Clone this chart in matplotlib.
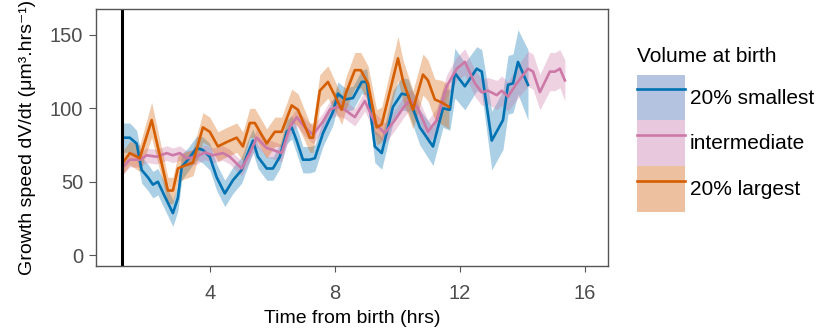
import matplotlib
matplotlib.use('Agg')
import matplotlib.pyplot as plt
from matplotlib.patches import Patch
from matplotlib.lines import Line2D
import numpy as np

plt.rcParams['font.family'] = ['Liberation Sans', 'DejaVu Sans']

# --- data (time in hrs, growth speed in um^3/hr) ---
small_t = [1.22, 1.44, 1.66, 1.82, 2.02, 2.18, 2.34, 2.56, 2.82, 2.98,
           3.10, 3.30, 3.58, 3.78, 4.00, 4.22, 4.48, 4.74, 5.02, 5.22,
           5.38, 5.54, 5.82, 6.02, 6.24, 6.46, 6.62, 6.78, 6.98, 7.20,
           7.36, 7.62, 7.94, 8.10, 8.32, 8.58, 8.86, 9.02, 9.28, 9.50,
           9.86, 10.14, 10.34, 10.72, 11.14, 11.46, 11.68, 11.84, 12.16, 12.54,
           12.70, 13.02, 13.38, 13.54, 13.70, 13.86, 14.18]
small_v = [80, 80, 76, 58, 53, 48, 50, 40, 28.6, 39,
           60, 65, 73, 71.6, 67, 53, 42, 51, 58, 69.5,
           78, 67, 59, 59, 67, 84, 87, 78, 65, 65,
           66, 83, 97.5, 110, 106, 107, 118, 118, 74, 69.5,
           101, 110, 109, 87, 74, 100, 99, 124, 115, 127,
           125, 78, 92, 116, 117, 131.6, 116]
small_err = [10, 10, 9, 9, 9, 9, 9, 9, 9, 9,
             9, 8, 8, 9, 9, 9, 9, 9, 9, 9,
             8, 8, 8, 8, 8, 8, 8, 9, 9, 9,
             9, 9, 9, 8, 8, 8, 8, 9, 11, 11,
             11, 11, 11, 12, 13, 13, 14, 17, 16, 15,
             15, 20, 20, 20, 20, 22, 24]

mid_t = [1.22, 1.44, 1.76, 1.98, 2.30, 2.62, 2.82, 3.04, 3.26, 3.58,
         3.84, 4.10, 4.42, 4.64, 5.02, 5.28, 5.50, 5.82, 6.02, 6.30,
         6.56, 6.78, 7.04, 7.30, 7.62, 7.84, 8.06, 8.32, 8.64, 8.96,
         9.28, 9.60, 9.92, 10.18, 10.40, 10.66, 10.98, 11.26, 11.58, 11.90,
         12.16, 12.48, 12.70, 12.90, 13.18, 13.34, 13.54, 13.82, 14.18, 14.34,
         14.56, 14.88, 15.04, 15.20, 15.36]
mid_v = [60, 65, 65, 68, 67, 69.5, 68, 69.5, 66, 67,
         70, 68, 69.5, 67, 59, 69.5, 80, 73, 71.6, 69.5,
         87, 94, 87, 82, 91, 99, 101, 99, 94, 105,
         90, 83, 92, 100, 106, 100, 84, 92, 115, 127,
         131.6, 117, 111, 112, 109, 112, 108, 117, 127, 125,
         111, 125, 125, 127, 119]
mid_err = [5, 5, 5, 5, 5, 5, 5, 5, 5, 5,
           5, 5, 5, 5, 5, 5, 6, 6, 6, 6,
           6, 6, 6, 6, 6, 6, 6, 6, 6, 7,
           7, 7, 7, 7, 7, 7, 8, 8, 8, 8,
           9, 9, 9, 9, 10, 10, 10, 11, 12, 12,
           12, 13, 13, 13, 14]

large_t = [1.22, 1.44, 1.76, 2.14, 2.66, 2.82, 2.98, 3.20, 3.46, 3.78,
           4.00, 4.26, 4.54, 4.86, 5.06, 5.28, 5.44, 5.82, 6.08, 6.30,
           6.62, 6.82, 7.20, 7.30, 7.52, 7.78, 8.06, 8.22, 8.35, 8.64,
           8.83, 9.06, 9.34, 9.50, 10.02, 10.18, 10.50, 10.82, 10.98, 11.20,
           11.42, 11.65]
large_v = [63, 69.5, 66, 92, 44, 44, 59, 61, 63, 87,
           84, 74, 77, 80, 74, 90, 90, 76, 84, 84,
           102, 99, 80, 80, 112, 118, 106, 99, 110, 126,
           126, 117, 87, 89, 134, 119, 99, 123, 119, 106,
           104, 101]
large_err = [8, 8, 9, 12, 9, 9, 9, 9, 9, 10,
             10, 10, 10, 10, 10, 10, 10, 10, 10, 10,
             11, 11, 10, 10, 11, 11, 10, 10, 11, 12,
             12, 12, 12, 12, 15, 14, 13, 14, 14, 14,
             15, 15]

groups = ['20% smallest', 'intermediate', '20% largest']
line_colors = ['#0072B2', '#CC79A7', '#D55E00']
key_colors = ['#b3c3e0', '#e8c8dc', '#edc0a0']
birth_line = 1.18


def main():
    fig = plt.figure(figsize=(8.25, 3.31), dpi=100)
    ax = fig.add_axes([0.116, 0.196, 0.621, 0.777])

    series = [(small_t, small_v, small_err),
              (mid_t, mid_v, mid_err),
              (large_t, large_v, large_err)]

    # ribbons first, then the mean lines on top
    for (t, v, e), c in zip(series, line_colors):
        t, v, e = np.array(t), np.array(v), np.array(e)
        ax.fill_between(t, v - e, v + e, color=c, alpha=0.33, lw=0)
    for (t, v, e), c in zip(series, line_colors):
        ax.plot(t, v, color=c, lw=1.9)

    ax.axvline(birth_line, color='black', lw=2.2)

    ax.set_xlim(0.35, 16.74)
    ax.set_ylim(-7.5, 167.7)
    ax.set_xticks([4, 8, 12, 16])
    ax.set_yticks([0, 50, 100, 150])
    for s in ax.spines.values():
        s.set_color('#555555')
        s.set_linewidth(1.0)
    ax.tick_params(colors='#555555', labelcolor='#4d4d4d', labelsize=14.5,
                   width=0.8)
    ax.tick_params(axis='x', length=4, pad=9)
    ax.tick_params(axis='y', length=5, pad=4)
    ax.set_xlabel('Time from birth (hrs)', fontsize=14, labelpad=5)
    ax.set_ylabel('Growth speed dV/dt (\u03bcm\u00b3.hrs\u207b\u00b9)', fontsize=14,
                  labelpad=10)

    # legend keys: filled ribbon colour with the mean line across it
    handles = [(Patch(facecolor=k, edgecolor='none'), Line2D([], [], color=c, lw=1.9))
               for k, c in zip(key_colors, line_colors)]
    ax.legend(handles, groups, loc='upper left',
              bbox_to_anchor=(0.760, 0.806), bbox_transform=fig.transFigure,
              frameon=False, fontsize=15,
              handlelength=2.3, handleheight=3.0, labelspacing=0,
              handletextpad=0.2, borderpad=0)
    fig.text(0.772, 0.813, 'Volume at birth', fontsize=15, va='baseline')

    fig.savefig('out.png', dpi=100)


if __name__ == "__main__":
    main()
